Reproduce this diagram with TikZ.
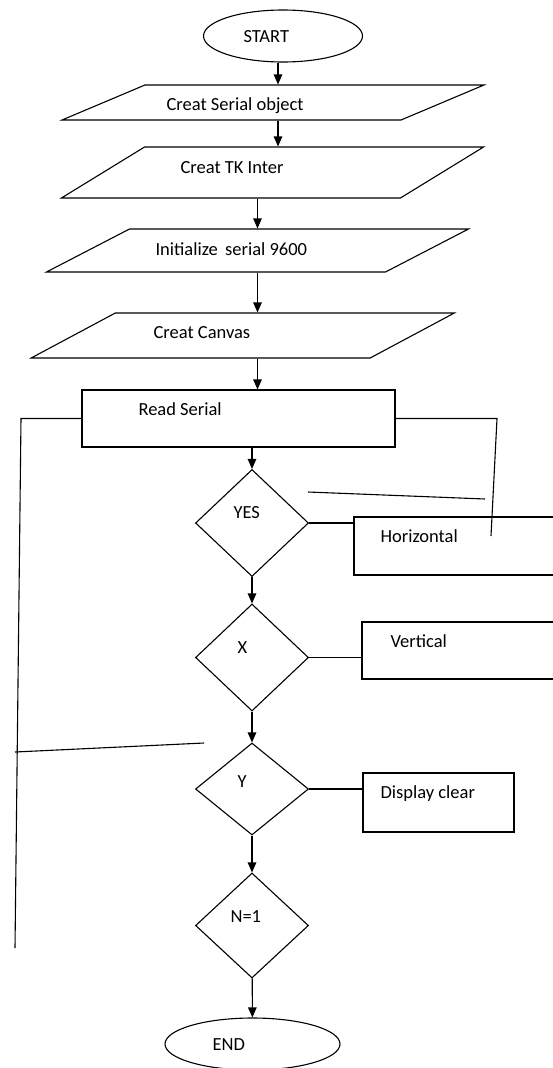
\documentclass[tikz,border=0pt]{standalone}
\usepackage{fontspec}
\setmainfont{Carlito}
\usetikzlibrary{positioning, shapes.geometric, arrows.meta, calc}

\begin{document}
\begin{tikzpicture}[
            x=1pt, y=-1pt,
            line width=1.1pt,
            term/.style={draw, ellipse, inner sep=0pt, minimum height=52pt},
            io/.style={draw, rectangle, inner sep=0pt, minimum width=339pt, transform shape},
            proc/.style={draw, rectangle, inner sep=0pt},
            dec/.style={draw, diamond, inner sep=0pt, minimum width=113pt},
            txt/.style={anchor=base west, inner sep=0pt, font=\fontsize{18.5}{20}\selectfont},
            arrow/.style={-{Stealth[length=10pt, width=8.5pt, inset=0pt]}}
          ]
        \useasboundingbox (0,0) rectangle (552,1068);

        \node[term, minimum width=159pt] (start) at (283,36) {};
        \node[io, xslant=2.37, minimum height=35pt] (serial) at (273,102.5) {};
        \node[io, xslant=1.63, minimum height=51pt] (tk) at (272.5,172.5) {};
        \node[io, xslant=1.93, minimum height=43pt] (init) at (257.5,250.5) {};
        \node[io, xslant=1.87, minimum height=45pt] (canvas) at (242.75,335.5) {};
        \node[proc, minimum width=313pt, minimum height=57pt] (read) at (238.5,418.5) {};
        \node[dec, minimum height=107pt] (yes) at (252,523) {};
        \node[dec, minimum height=107pt] (xdir) at (252,657.5) {};
        \node[dec, minimum height=92pt] (ydir) at (252,789) {};
        \node[dec, minimum height=105pt] (nchk) at (252,925.5) {};
        \node[term, minimum width=175pt] (stop) at (252.5,1044) {};
        \node[proc, minimum width=220pt, minimum height=58pt] (horiz) at (464,546) {};
        \node[proc, minimum width=220pt, minimum height=57pt] (vert) at (472,650.5) {};
        \node[proc, minimum width=151pt, minimum height=59pt] (disp) at (438.5,802.5) {};

        \node[txt] (starttxt) at (243,42) {START};
        \node[txt] (serialtxt) at (166,110.5) {Creat Serial object};
        \node[txt] (tktxt) at (180,173) {Creat TK Inter};
        \node[txt] (inittxt) at (155,255) {Initialize\, serial 9600};
        \node[txt] (canvastxt) at (153,338) {Creat Canvas};
        \node[txt] (readtxt) at (138,415) {Read Serial};
        \node[txt] (yestxt) at (233,518) {YES};
        \node[txt] (horiztxt) at (380,542) {Horizontal};
        \node[txt] (xtxt) at (237,653) {X};
        \node[txt] (verttxt) at (390,647) {Vertical};
        \node[txt] (ytxt) at (237,787) {Y};
        \node[txt] (disptxt) at (380,798) {Display clear};
        \node[txt] (nchktxt) at (230,922) {N=1};
        \node[txt] (stoptxt) at (212,1050) {END};

        \coordinate (upper) at (278,0);
        \draw[arrow] (upper |- start.south) -- (upper |- serial.north);
        \draw[arrow] (upper |- serial.south) -- (upper |- tk.north);
        \draw[arrow] (init.center |- tk.south) -- (init.center |- init.north);
        \draw[arrow] (init.center |- init.south) -- (init.center |- canvas.north);
        \draw[arrow] (init.center |- canvas.south) -- (init.center |- read.north);
        \draw[arrow] (read.south -| yes.north) -- (yes.north);
        \draw[arrow] (yes) -- (xdir);
        \draw[arrow] (xdir) -- (ydir);
        \draw[arrow] (ydir) -- (nchk);
        \draw[arrow] (nchk) -- (stop);

        \draw (yes.east) -- (yes.east -| horiz.west);
        \draw (xdir.east) -- (xdir.east -| vert.west);
        \draw (ydir.east) -- (ydir.east -| disp.west);

        % loose lines
        \coordinate (lcorner) at (21,418.5);
        \coordinate (lbot) at (15,948);
        \coordinate (lfrom) at (15,752);
        \coordinate (lto) at (204,743);
        \coordinate (rcorner) at (497,418.5);
        \coordinate (rbot) at (491,536);
        \coordinate (rfrom) at (308,492);
        \coordinate (rto) at (485,499);
        \draw (read.west) -- (lcorner) -- (lbot);
        \draw (lfrom) -- (lto);
        \draw (read.east) -- (rcorner) -- (rbot);
        \draw (rfrom) -- (rto);

        \end{tikzpicture}
\end{document}
